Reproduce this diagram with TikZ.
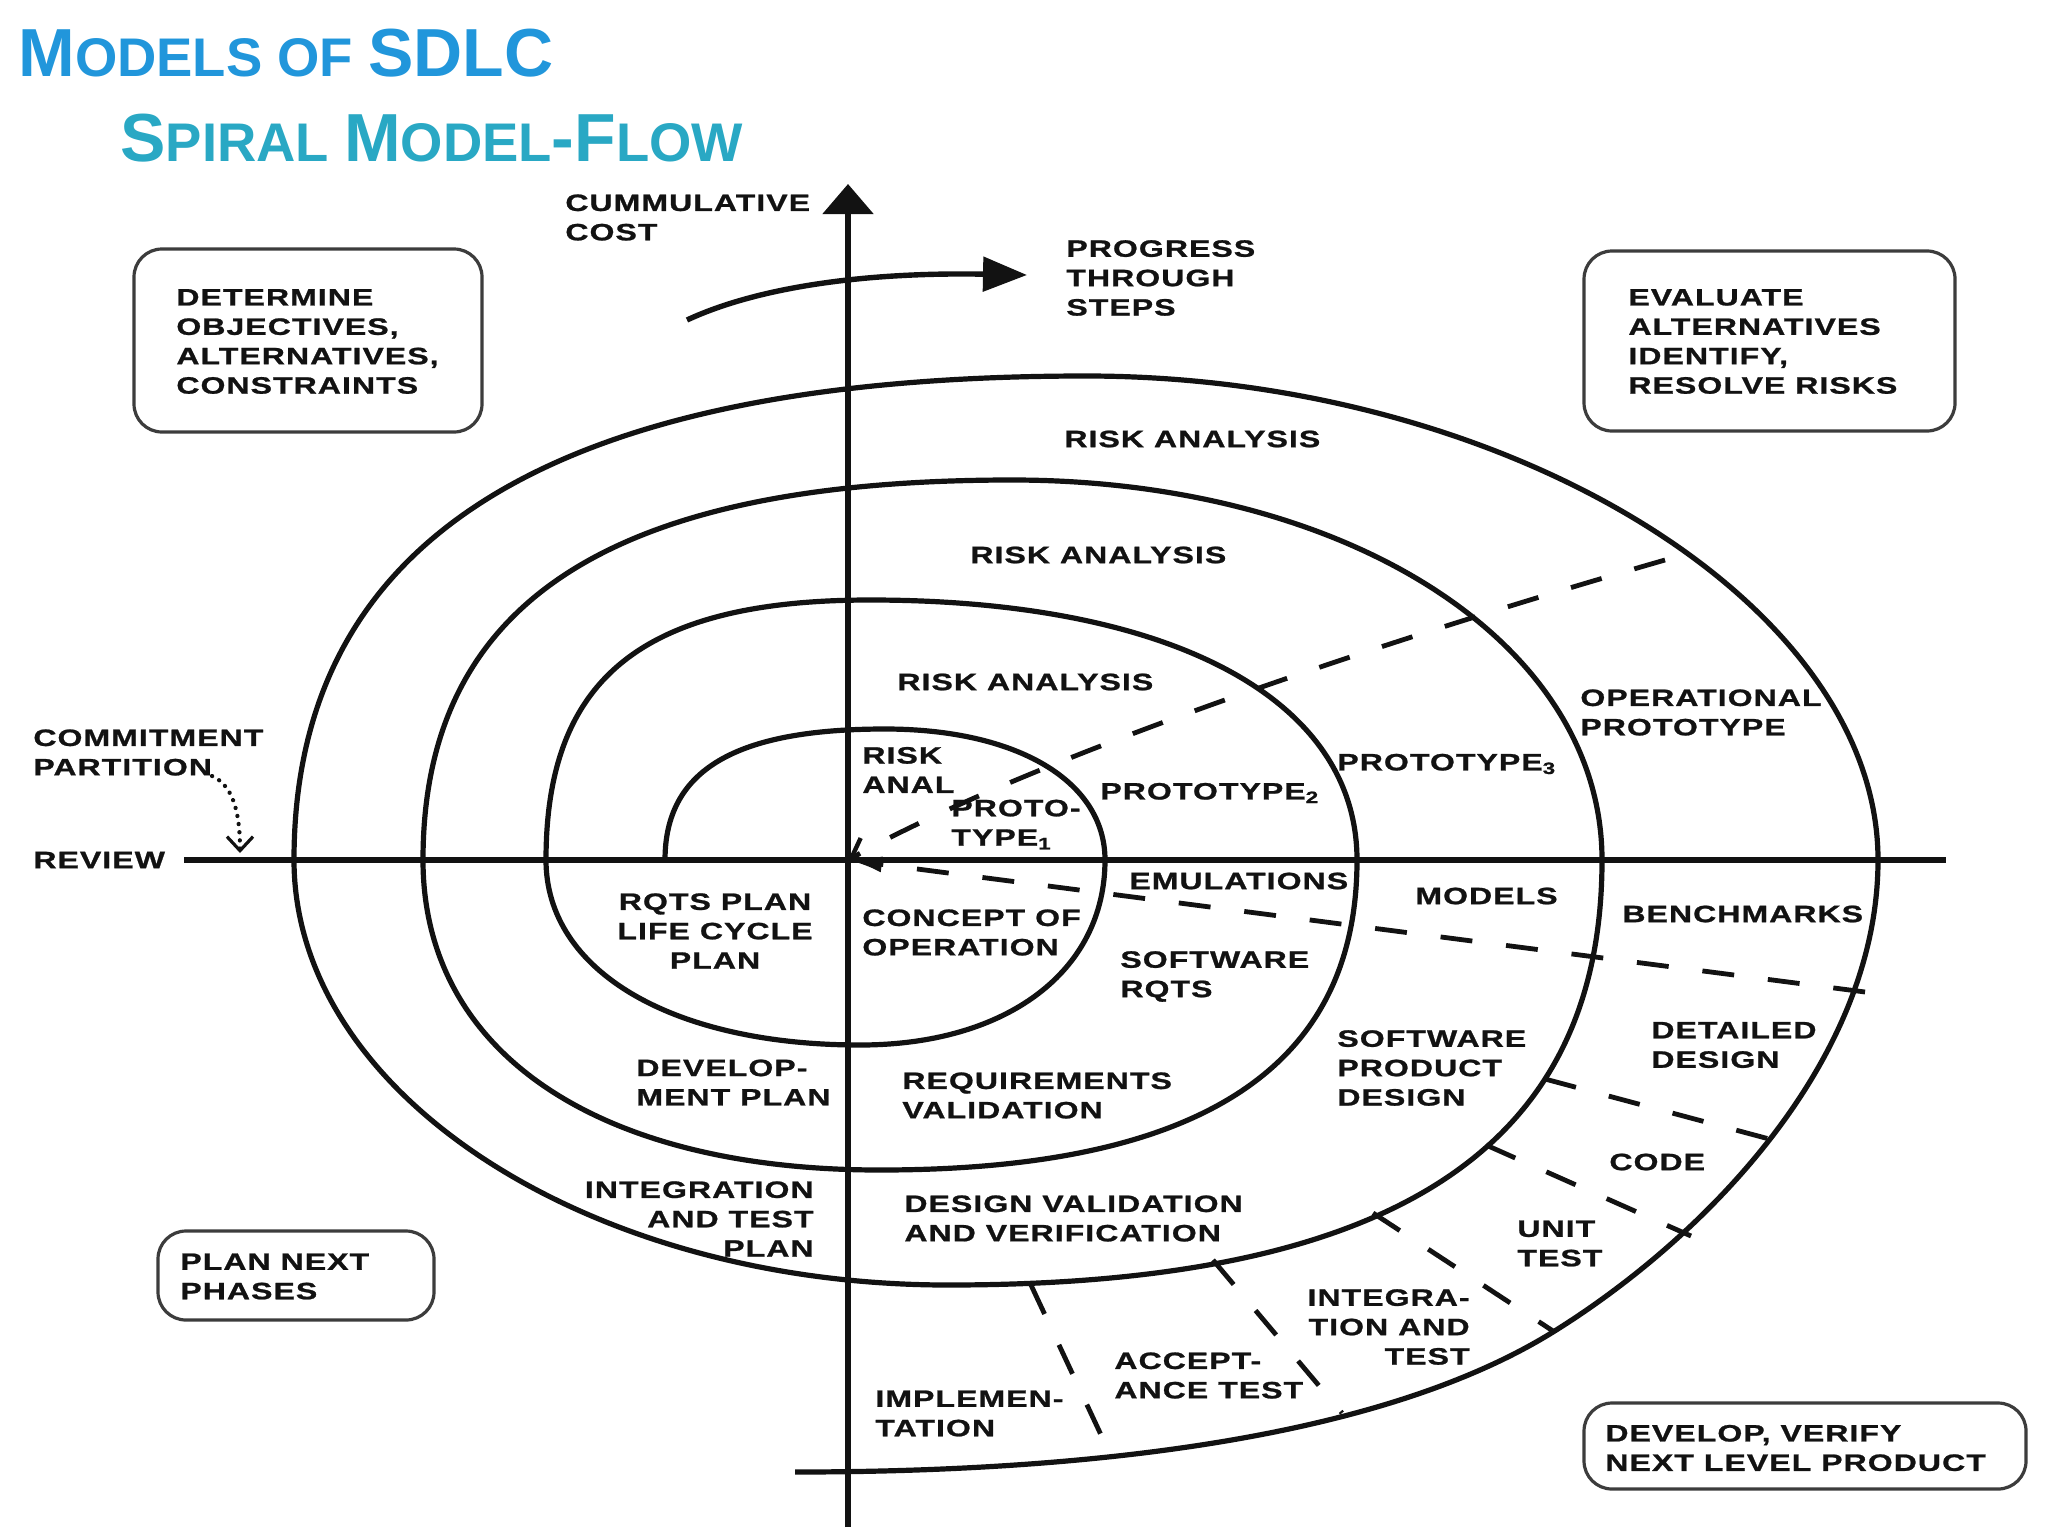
\documentclass[tikz,border=0pt]{standalone}
\usepackage{fontspec}
\usetikzlibrary{arrows.meta}
\newfontfamily\labfont[FakeStretch=1.35,LetterSpace=4.5,FakeBold=1]{Liberation Sans}
\newfontfamily\titlefont{Liberation Sans}
\definecolor{titleblue}{RGB}{33,150,219}
\definecolor{titleteal}{RGB}{41,168,196}
\definecolor{ink}{RGB}{18,18,18}
\definecolor{boxline}{RGB}{60,60,60}
\begin{document}
\begin{tikzpicture}[x=0.5pt,y=-0.5pt,
  lbl/.style={font=\labfont\bfseries\fontsize{11.85pt}{14.7pt}\selectfont, text=ink, inner sep=0pt, align=left, anchor=west},
  rlbl/.style={lbl, align=right, anchor=east},
  clbl/.style={lbl, align=center, anchor=center},
  box/.style={draw=boxline, line width=1.6pt, rounded corners=14pt, inner sep=0pt},
  spiral/.style={draw=ink, line width=2.6pt, line join=round},
  axisline/.style={draw=ink, line width=2.7pt},
  sepline/.style={draw=ink, line width=2.4pt, dash pattern=on 16pt off 17pt},
  ttl/.style={anchor=base west, inner sep=0pt, font=\titlefont\bfseries}]
\fill[white] (0,0) rectangle (2048,1536);
\useasboundingbox (0,0) rectangle (2048,1536);

% titles
\node[ttl, text=titleblue] (t1) at (18,76) {\fontsize{34pt}{40pt}\selectfont M\fontsize{27.2pt}{32pt}\selectfont ODELS OF \fontsize{34pt}{40pt}\selectfont SDLC};
\node[ttl, text=titleteal] (t2) at (120,161) {\fontsize{34pt}{40pt}\selectfont S\fontsize{27.2pt}{32pt}\selectfont PIRAL \fontsize{34pt}{40pt}\selectfont M\fontsize{27.2pt}{32pt}\selectfont ODEL\fontsize{34pt}{40pt}\selectfont -F\fontsize{27.2pt}{32pt}\selectfont LOW};

% coordinates
\coordinate (O) at (848,860);
\coordinate (ytop) at (848,184);
\coordinate (ybot) at (848,1527);
\coordinate (xl) at (184,860);
\coordinate (xr) at (1946,860);

% spiral
\draw[spiral] (665,860)
 .. controls (665,770) and (735,729) .. (885,729)
 .. controls (1017,729) and (1105,781) .. (1105,860)
 .. controls (1105,971) and (1007,1045) .. (860,1045)
 .. controls (672,1045) and (546,971) .. (546,860)
 .. controls (546,678) and (643,600) .. (870,600)
 .. controls (1172,600) and (1357,699) .. (1357,860)
 .. controls (1357,1068) and (1200,1170) .. (880,1170)
 .. controls (597,1170) and (423,1052) .. (423,860)
 .. controls (423,602) and (611,480) .. (1012,480)
 .. controls (1348,480) and (1602,643) .. (1602,860)
 .. controls (1602,1149) and (1393,1285) .. (948,1285)
 .. controls (588,1285) and (294,1094) .. (294,860)
 .. controls (294,536) and (555,376) .. (1086,376)
 .. controls (1506,376) and (1878,603) .. (1878,860)
 .. controls (1878,1060) and (1706,1237) .. (1553,1332)
 .. controls (1366,1448) and (1045,1472) .. (795,1472);

% axes
\draw[axisline, -{Triangle[length=15pt,width=25pt]}] (ybot) -- (ytop);
\draw[axisline] (xl) -- (xr);

% dashed lines into the origin
\coordinate (u1) at (1665,560);
\coordinate (l1) at (1865,992);
\draw[sepline, -{Straight Barb[length=9pt,width=13pt,line width=2.2pt]}] (u1) .. controls (1300,665) and (1000,775) .. (O);
\draw[sepline, -{Latex[length=17pt,width=8pt]}] (l1) -- (O);

% radial separators in the develop quadrant
\coordinate (s1a) at (1545,1079); \coordinate (s1b) at (1773,1140);
\coordinate (s2a) at (1486,1145); \coordinate (s2b) at (1691,1236);
\coordinate (s3a) at (1373,1213); \coordinate (s3b) at (1553,1331);
\coordinate (s4a) at (1213,1260); \coordinate (s4b) at (1342,1413);
\coordinate (s5a) at (1031,1285); \coordinate (s5b) at (1109,1452);
\draw[sepline] (s1a) -- (s1b);
\draw[sepline] (s2a) -- (s2b);
\draw[sepline] (s3a) -- (s3b);
\draw[sepline] (s4a) -- (s4b);
\draw[sepline] (s5a) -- (s5b);

% progress arrow
\coordinate (pa) at (687,320);
\coordinate (pb) at (1027,275);
\draw[draw=ink, line width=2.7pt, -{Triangle[length=22pt,width=17pt]}] (pa) .. controls (760,286) and (870,272) .. (pb);

% commitment dotted arrow
\coordinate (cpa) at (212,776);
\coordinate (cpb) at (240,853);
\draw[draw=ink, line width=2.1pt, line cap=round, dash pattern=on 0.1pt off 4pt, -{Straight Barb[length=7pt,width=13pt,line width=1.6pt]}] (cpa) .. controls (232,785) and (240,810) .. (cpb);

% boxes
\node[box, minimum width=174pt, minimum height=91.5pt] (detbox) at (308,340.5) {};
\node[lbl] (det) at (176,341.5) {DETERMINE\\OBJECTIVES,\\ALTERNATIVES,\\CONSTRAINTS};
\node[box, minimum width=185.5pt, minimum height=90pt] (evalbox) at (1769.5,341) {};
\node[lbl] (eval) at (1628,341.5) {EVALUATE\\ALTERNATIVES\\IDENTIFY,\\RESOLVE RISKS};
\node[box, minimum width=138pt, minimum height=44.5pt] (planbox) at (296,1275.5) {};
\node[lbl] (plan) at (180,1276.5) {PLAN NEXT\\PHASES};
\node[box, minimum width=221pt, minimum height=43pt] (devbox) at (1805,1446) {};
\node[lbl] (dev) at (1605,1448) {DEVELOP, VERIFY\\NEXT LEVEL PRODUCT};

% axis labels
\node[lbl] (cum) at (565,217.5) {CUMMULATIVE\\COST};
\node[lbl] (prog) at (1066,278) {PROGRESS\\THROUGH\\STEPS};
\node[lbl] (commit) at (33,752.5) {COMMITMENT\\PARTITION};
\node[lbl] (review) at (33,860) {REVIEW};

% upper right quadrant
\node[lbl] (ra1) at (1064,439) {RISK ANALYSIS};
\node[lbl] (ra2) at (970,555) {RISK ANALYSIS};
\node[lbl] (ra3) at (897,682) {RISK ANALYSIS};
\node[lbl] (ra4) at (862,770) {RISK\\ANAL};
\node[lbl] (p1) at (951,824.5) {PROTO-\\TYPE\textsubscript{1}};
\node[lbl] (p2) at (1100,793) {PROTOTYPE\textsubscript{2}};
\node[lbl] (p3) at (1337,764) {PROTOTYPE\textsubscript{3}};
\node[lbl] (op) at (1580,712.5) {OPERATIONAL\\PROTOTYPE};

% lower right quadrant
\node[lbl] (emu) at (1129,881) {EMULATIONS};
\node[lbl] (mod) at (1415,896) {MODELS};
\node[lbl] (bench) at (1622,914) {BENCHMARKS};
\node[lbl] (conc) at (862,932.5) {CONCEPT OF\\OPERATION};
\node[lbl] (swr) at (1120,976.5) {SOFTWARE\\RQTS};
\node[lbl] (swpd) at (1337,1068) {SOFTWARE\\PRODUCT\\DESIGN};
\node[lbl] (dd) at (1651,1045) {DETAILED\\DESIGN};
\node[lbl] (code) at (1609,1162) {CODE};
\node[lbl] (ut) at (1517,1243.5) {UNIT\\TEST};
\node[rlbl] (it) at (1470,1327) {INTEGRA-\\TION AND\\TEST};
\node[lbl] (acc) at (1114,1375.5) {ACCEPT-\\ANCE TEST};
\node[lbl] (impl) at (875,1413.5) {IMPLEMEN-\\TATION};
\node[lbl] (dvv) at (904,1218.5) {DESIGN VALIDATION\\AND VERIFICATION};
\node[lbl] (rv) at (902,1095.5) {REQUIREMENTS\\VALIDATION};

% lower left quadrant
\node[clbl] (rqts) at (715,931) {RQTS PLAN\\LIFE CYCLE\\PLAN};
\node[lbl] (devp) at (636,1082.5) {DEVELOP-\\MENT PLAN};
\node[rlbl] (itp) at (814,1219) {INTEGRATION\\AND TEST\\PLAN};
\end{tikzpicture}
\end{document}
